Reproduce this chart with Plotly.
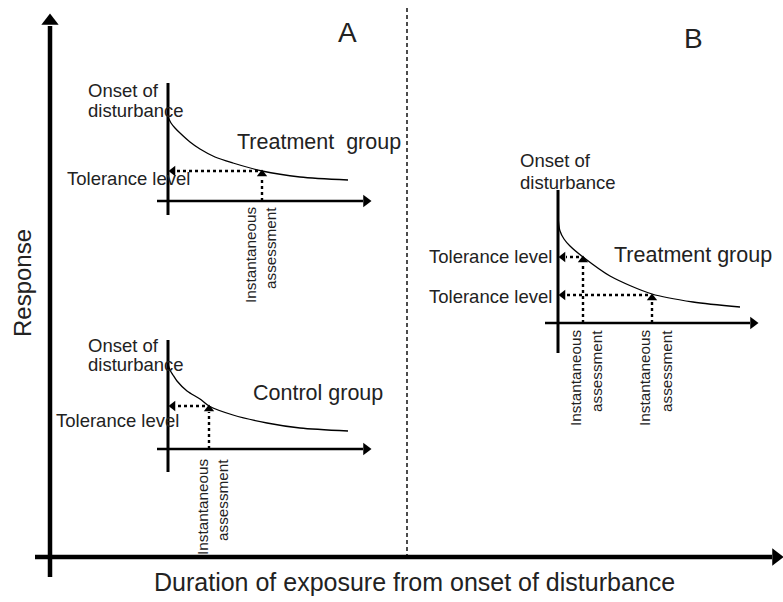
import plotly.graph_objects as go

W, H = 783, 602
FONT = "Liberation Sans, Arial, Helvetica, sans-serif"

# ---- response curves (diagram units: x = time, y = response level, page pixels) ----
treat_a_x = [168, 171, 175, 180, 190, 200, 215, 233, 262, 300, 348]
treat_a_y = [117, 123, 128, 133, 142, 149, 157, 163, 171, 177, 180]
ctrl_x = [168, 170, 173, 177, 187, 200, 209, 233, 267, 300, 348]
ctrl_y = [364, 370, 375, 381, 391, 399, 406, 415, 423, 428, 431]
treat_b_x = [558, 558.5, 560, 564, 570, 583, 610, 652, 693, 740]
treat_b_y = [213, 222, 231, 239, 246, 257, 276, 294, 302, 307]

# assessment points (time, tolerance level)
assess_a = [(262, 171)]
assess_ctrl = [(209, 406)]
assess_b = [(583, 257), (652, 295)]

# sub-panel axes: (origin x, top y, bottom y, x-axis y, x-axis left, x-axis tip)
panels = [
    (168, 83, 215, 201, 157, 371),
    (168, 340, 472, 449, 157, 371),
    (558, 190, 353, 323, 545, 758),
]

fig = go.Figure()

def line(xs, ys, width=1.5, dash=None, color="black"):
    fig.add_trace(go.Scatter(x=xs, y=ys, mode="lines", hoverinfo="skip",
                             line=dict(color=color, width=width, dash=dash,
                                       shape="spline" if len(xs) > 2 else "linear",
                                       smoothing=0.8),
                             showlegend=False))

def marker(x, y, symbol, size):
    fig.add_trace(go.Scatter(x=[x], y=[y], mode="markers", hoverinfo="skip",
                             marker=dict(symbol=symbol, size=size, color="black",
                                         line=dict(width=0)),
                             showlegend=False))

# main axes
line([50, 50], [577, 26], width=4.5)
marker(50, 21, "triangle-up", 15)
line([35, 772], [557, 557], width=4.5)
marker(776, 557, "triangle-right", 15)
# divider
line([407, 407], [8, 557], width=1.4, dash="4px,3px")

# sub panels
for ox, ty, by, xy, xl, xt in panels:
    line([ox, ox], [ty, by], width=3)
    line([xl, xt - 8], [xy, xy], width=2.5)
    marker(xt - 5, xy, "triangle-right", 11)

# curves
line(treat_a_x, treat_a_y, width=1.3)
line(ctrl_x, ctrl_y, width=1.3)
line(treat_b_x, treat_b_y, width=1.3)

# assessments (dotted arrows)
for pts, (ox, ty, by, xy, xl, xt) in [(assess_a, panels[0]), (assess_ctrl, panels[1]), (assess_b, panels[2])]:
    for ax_, ay_ in pts:
        line([ax_, ax_], [xy, ay_ + 6], width=2.4, dash="dot")
        marker(ax_, ay_ + 3, "triangle-up", 9)
        line([ax_ - 4, ox + 8], [ay_, ay_], width=2.4, dash="dot")
        marker(ox + 5, ay_, "triangle-left", 9)

def text(x, y, s, size, xanchor="left", yanchor="middle", angle=0):
    fig.add_annotation(x=x, y=y, text=s, showarrow=False, xanchor=xanchor, yanchor=yanchor,
                       textangle=angle, borderpad=0,
                       font=dict(family=FONT, size=size, color="#222222"))

text(347, 32, "A", 28, xanchor="center")
text(693, 38, "B", 28, xanchor="center")
text(22, 283, "Response", 24, xanchor="center", angle=-90)
text(414, 582, "Duration of exposure from onset of disturbance", 25, xanchor="center")

def onset(x, y1, y2):
    text(x, y1, "Onset of", 18.5)
    text(x, y2, "disturbance", 18.5)

def instant(x1, x2, top):
    text(x1, top, "Instantaneous", 15.3, xanchor="center", yanchor="top", angle=-90)
    text(x2, top, "assessment", 15.3, xanchor="center", yanchor="top", angle=-90)

# panel A - treatment
onset(87, 90, 110)
text(236, 142, "Treatment  group", 21.5)
text(66, 178, "Tolerance level", 18.5)
instant(250, 270, 206)

# panel A - control
onset(87, 345, 364)
text(252, 393, "Control group", 21.5)
text(55, 420, "Tolerance level", 18.5)
instant(202, 222, 458)

# panel B
onset(519, 160, 182)
text(613, 255, "Treatment group", 21.5)
text(428, 256, "Tolerance level", 18.5)
text(428, 296, "Tolerance level", 18.5)
instant(575, 596, 329)
instant(644, 666, 329)

fig.update_layout(
    width=W, height=H, margin=dict(l=0, r=0, t=0, b=0),
    paper_bgcolor="white", plot_bgcolor="white",
    xaxis=dict(range=[0, W], visible=False, fixedrange=True),
    yaxis=dict(range=[H, 0], visible=False, fixedrange=True),
    showlegend=False,
)
fig.write_html("out.html", config={"displayModeBar": False},
               post_script="document.body.style.margin='0';document.body.style.overflow='hidden';")
